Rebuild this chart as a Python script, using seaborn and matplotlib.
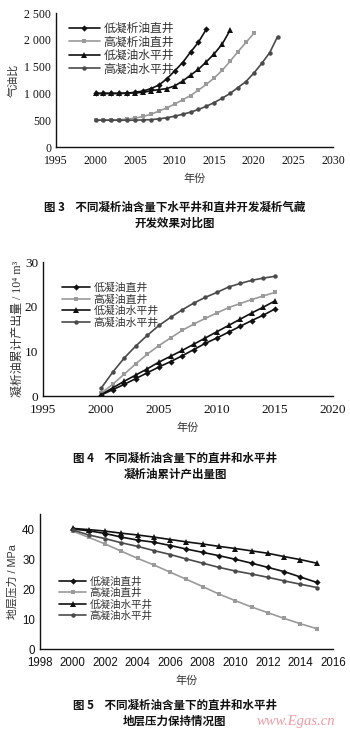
import numpy as np
import pandas as pd
import matplotlib
matplotlib.use("Agg")
import matplotlib.pyplot as plt
import seaborn as sns

sns.set_theme(style="white")
plt.rcParams['font.family'] = ['Liberation Serif', 'Noto Sans CJK SC', 'DejaVu Serif']
plt.rcParams['axes.unicode_minus'] = False

# ---------------- data ----------------
# Fig 3: gas-oil ratio
f3_names = ["低凝析油直井", "高凝析油直井", "低凝油水平井", "高凝油水平井"]
f3_low_vert_years = list(range(2000, 2015))
f3_low_vert = [1000, 1000, 1000, 1000, 1005, 1020, 1044, 1090, 1156, 1270, 1420, 1575, 1770, 1955, 2200]
f3_high_vert_years = list(range(2000, 2021))
f3_high_vert = [500, 500, 505, 510, 520, 540, 570, 610, 670, 730, 800, 880, 960, 1060, 1170,
                1290, 1430, 1600, 1780, 1950, 2120]
f3_low_hor_years = list(range(2000, 2018))
f3_low_hor = [1000, 1000, 1000, 1000, 1005, 1010, 1020, 1050, 1070, 1090, 1140, 1230, 1340,
              1450, 1590, 1740, 1920, 2180]
f3_high_hor_years = list(range(2000, 2024))
f3_high_hor = [500, 500, 500, 500, 500, 500, 505, 510, 525, 545, 575, 610, 650, 700, 760,
               830, 910, 1000, 1110, 1220, 1380, 1560, 1760, 2060]
f3_xticks = [1995, 2000, 2005, 2010, 2015, 2020, 2025, 2030]
f3_yticks = [0, 500, 1000, 1500, 2000, 2500]
f3_ylabels = ["0", "500", "1 000", "1 500", "2 000", "2 500"]

# Fig 4: cumulative condensate production
f4_names = ["低凝油直井", "高凝油直井", "低凝油水平井", "高凝油水平井"]
f4_years = list(range(2000, 2016))
f4_low_vert = [0.2, 1.4, 2.6, 3.9, 5.2, 6.5, 7.7, 9.0, 10.4, 11.8, 13.0, 14.3, 15.6, 16.9, 18.1, 19.5]
f4_high_vert = [0.6, 2.6, 4.9, 7.2, 9.4, 11.3, 13.0, 14.7, 16.1, 17.4, 18.6, 19.8, 20.7, 21.6, 22.4, 23.2]
f4_low_hor = [0.3, 1.8, 3.3, 4.7, 6.1, 7.6, 8.9, 10.2, 11.6, 13.0, 14.4, 15.8, 17.2, 18.6, 19.9, 21.3]
f4_high_hor = [1.7, 5.3, 8.5, 11.2, 13.6, 15.8, 17.6, 19.3, 20.8, 22.1, 23.2, 24.4, 25.2, 25.9, 26.4, 26.8]
f4_xticks = [1995, 2000, 2005, 2010, 2015, 2020]
f4_yticks = [0, 10, 20, 30]

# Fig 5: formation pressure
f5_names = ["低凝油直井", "高凝油直井", "低凝油水平井", "高凝油水平井"]
f5_years = list(range(2000, 2016))
f5_low_vert = [40.0, 39.4, 38.5, 37.3, 36.3, 35.6, 34.5, 33.3, 32.2, 31.1, 29.9, 28.6, 27.2, 25.8, 24.0, 22.2]
f5_high_vert = [39.3, 37.2, 35.0, 32.6, 30.2, 28.0, 25.6, 23.2, 20.8, 18.3, 16.1, 14.0, 12.1, 10.2, 8.4, 6.8]
f5_low_hor = [40.2, 39.8, 39.3, 38.6, 38.0, 37.3, 36.5, 35.7, 35.0, 34.2, 33.5, 32.7, 31.9, 30.8, 29.8, 28.6]
f5_high_hor = [39.7, 38.0, 36.8, 35.4, 34.2, 32.8, 31.5, 30.0, 28.6, 27.2, 26.0, 25.0, 23.9, 22.7, 21.6, 20.5]
f5_xticks = list(range(1998, 2017, 2))
f5_yticks = [0, 10, 20, 30, 40]

captions = [
    ("图 3    不同凝析油含量下水平井和直井开发凝析气藏", "开发效果对比图"),
    ("图 4    不同凝析油含量下的直井和水平井", "凝析油累计产出量图"),
    ("图 5    不同凝析油含量下的直井和水平井", "地层压力保持情况图"),
]

# ---------------- styles ----------------
colors = ["#111111", "#9a9a9a", "#111111", "#4a4a4a"]
markers = ["D", "s", "^", "o"]
msizes = [3.2, 3.2, 4.0, 3.2]


def long_df(names, xs_list, ys_list):
    rows = []
    for n, xs, ys in zip(names, xs_list, ys_list):
        for x, y in zip(xs, ys):
            rows.append((n, x, y))
    return pd.DataFrame(rows, columns=["series", "year", "value"])


def draw(ax, df, names, tickfont, ticksize, legsize, legend_kw):
    for i, n in enumerate(names):
        sub = df[df["series"] == n]
        sns.lineplot(data=sub, x="year", y="value", ax=ax, color=colors[i],
                     marker=markers[i], markersize=msizes[i], markeredgewidth=0,
                     linewidth=1.2, label=n, legend=True, errorbar=None)
    for s in ["top", "right"]:
        ax.spines[s].set_visible(False)
    for s in ["left", "bottom"]:
        ax.spines[s].set_color("#111111")
        ax.spines[s].set_linewidth(1.0)
    ax.tick_params(direction="in", length=3, width=0.9, colors="#111111",
                   labelsize=ticksize)
    ax.tick_params(axis="x", pad=5.5)
    ax.tick_params(axis="y", pad=3.5)
    for lab in ax.get_xticklabels() + ax.get_yticklabels():
        lab.set_family(tickfont)
    ax.set_xlabel("年份", fontsize=8, family=['Noto Sans CJK SC'], color="#333333", labelpad=5)
    leg = ax.legend(frameon=False, fontsize=legsize, handlelength=2.6, handletextpad=0.3,
                    labelspacing=0.12, borderaxespad=0, **legend_kw)
    for t in leg.get_texts():
        t.set_color("#333333")
    return ax


fig = plt.figure(figsize=(3.5, 7.32), dpi=100)
W, H = 350.0, 732.0


def rect(l, r, t, b):
    return [l / W, 1 - b / H, (r - l) / W, (b - t) / H]


serif = ['Liberation Serif', 'Noto Sans CJK SC', 'DejaVu Serif']
sans = ['Liberation Sans', 'Noto Sans CJK SC', 'DejaVu Sans']

# Fig 3
ax1 = fig.add_axes(rect(56, 333, 13, 147))
df3 = long_df(f3_names, [f3_low_vert_years, f3_high_vert_years, f3_low_hor_years, f3_high_hor_years],
              [f3_low_vert, f3_high_vert, f3_low_hor, f3_high_hor])
ax1.set_xlim(1995, 2030)
ax1.set_ylim(0, 2500)
ax1.set_xticks(f3_xticks)
ax1.set_yticks(f3_yticks)
ax1.set_yticklabels(f3_ylabels)
draw(ax1, df3, f3_names, serif, 8.5, 8.5, dict(loc="upper left", bbox_to_anchor=(0.03, 0.96)))
ax1.set_ylabel("气油比", fontsize=8, family=['Noto Sans CJK SC'], color="#333333", labelpad=4)

# Fig 4
ax2 = fig.add_axes(rect(43, 333, 262, 396))
df4 = long_df(f4_names, [f4_years] * 4, [f4_low_vert, f4_high_vert, f4_low_hor, f4_high_hor])
ax2.set_xlim(1995, 2020)
ax2.set_ylim(0, 30)
ax2.set_xticks(f4_xticks)
ax2.set_yticks(f4_yticks)
draw(ax2, df4, f4_names, serif, 9.5, 7.8, dict(loc="upper left", bbox_to_anchor=(0.05, 0.88)))
ax2.set_ylabel("凝析油累计产出量 / 10⁴ m³", fontsize=8.6, family=serif, color="#333333", labelpad=1)

# Fig 5
ax3 = fig.add_axes(rect(40, 333, 514, 649))
df5 = long_df(f5_names, [f5_years] * 4, [f5_low_vert, f5_high_vert, f5_low_hor, f5_high_hor])
ax3.set_xlim(1998, 2016)
ax3.set_ylim(0, 45)
ax3.set_xticks(f5_xticks)
ax3.set_yticks(f5_yticks)
draw(ax3, df5, f5_names, sans, 8.3, 7.6, dict(loc="upper left", bbox_to_anchor=(0.05, 0.57)))
ax3.set_ylabel("地层压力 / MPa", fontsize=7.8, family=sans, color="#333333", labelpad=3)

# captions
cap_y = [(207, 223), (458, 474), (705, 721)]
for (l1, l2), (y1, y2) in zip(captions, cap_y):
    fig.text(0.5, 1 - y1 / H, l1, ha="center", va="center", fontsize=8.3,
             fontweight="bold", family=['Noto Sans CJK SC'], color="#111111")
    fig.text(0.5, 1 - y2 / H, l2, ha="center", va="center", fontsize=8.3,
             fontweight="bold", family=['Noto Sans CJK SC'], color="#111111")

fig.text(296 / W, 1 - 721 / H, "www.Egas.cn", ha="center", va="center", fontsize=10.5,
         style="italic", family=['Liberation Serif'], color="#f09aa4")

fig.savefig("out.png", dpi=100)
